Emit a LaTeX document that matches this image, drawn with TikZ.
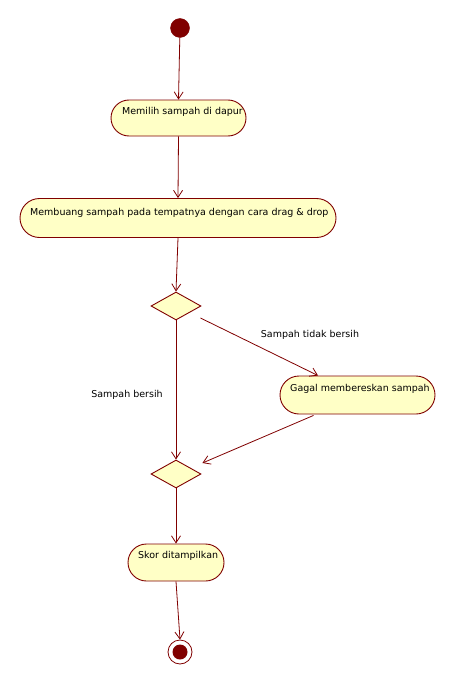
\documentclass[tikz,border=0pt]{standalone}
\usepackage{fontspec}
\setmainfont{DejaVu Sans}
\usetikzlibrary{shapes.geometric,arrows.meta,calc}
\definecolor{umlred}{HTML}{800000}
\definecolor{umlfill}{HTML}{FFFFC6}
\begin{document}
\begin{tikzpicture}[x=1pt,y=-1pt,
  act/.style={draw=umlred,fill=umlfill,line width=0.9pt,rectangle,inner sep=0pt},
  dec/.style={draw=umlred,fill=umlfill,line width=0.9pt,diamond,inner sep=0pt,minimum width=50pt,minimum height=28pt},
  txt/.style={font=\fontsize{9.5}{11}\selectfont,inner sep=0pt,anchor=west},
  flow/.style={draw=umlred,line width=0.8pt,-{Straight Barb[length=7pt,width=9pt,line width=0.8pt]}},
  lbl/.style={font=\fontsize{9.5}{11}\selectfont,inner sep=0pt}]
\useasboundingbox (0,0) rectangle (456,685);
\fill[white] (0,0) rectangle (456,685);
% start
\node[circle,fill=umlred,draw=umlred,minimum size=19pt,inner sep=0pt] (s) at (180,28) {};
% activities
\node[act,minimum width=135pt,minimum height=36pt,rounded corners=18pt] (a1) at (178.5,118) {};
\node[txt] (t1) at (122,112) {Memilih sampah di dapur};
\node[act,minimum width=316pt,minimum height=39pt,rounded corners=19.5pt] (a2) at (178,218) {};
\node[txt] (t2) at (30,213) {Membuang sampah pada tempatnya dengan cara drag \& drop};
\node[dec] (d1) at (176,306) {};
\node[act,minimum width=155pt,minimum height=38pt,rounded corners=19pt] (a3) at (357.5,395) {};
\node[txt] (t3) at (290,389) {Gagal membereskan sampah};
\node[dec] (d2) at (176,474) {};
\node[act,minimum width=96pt,minimum height=37pt,rounded corners=18.5pt] (a4) at (176,562.5) {};
\node[txt] (t4) at (138,556) {Skor ditampilkan};
% end
\node[circle,draw=umlred,fill=white,line width=0.8pt,minimum size=24pt,inner sep=0pt] (e) at (180,652) {};
\node[circle,fill=umlred,minimum size=15pt,inner sep=0pt] (ei) at (180,652) {};
% labels
\node[lbl] (l1) at (127,395) {Sampah bersih};
\node[lbl] (l2) at (310,335) {Sampah tidak bersih};
% coordinates for free ends
\coordinate (d1o) at ($(d1.east)+(-1,12)$);
\coordinate (a3i) at ($(a3.north)+(-39.5,0)$);
\coordinate (a3o) at ($(a3.south)+(-44,1)$);
\coordinate (d2i) at ($(d2.east)+(1,-11)$);
% flows
\draw[flow] (s) -- (a1.north);
\draw[flow] (a1.south) -- (a2.north);
\draw[flow] (a2.south) -- (d1.north);
\draw[flow] (d1.south) -- (d2.north);
\draw[flow] (d1o) -- (a3i);
\draw[flow] (a3o) -- (d2i);
\draw[flow] (d2.south) -- (a4.north);
\draw[flow] (a4.south) -- (e.north);
\end{tikzpicture}
\end{document}
